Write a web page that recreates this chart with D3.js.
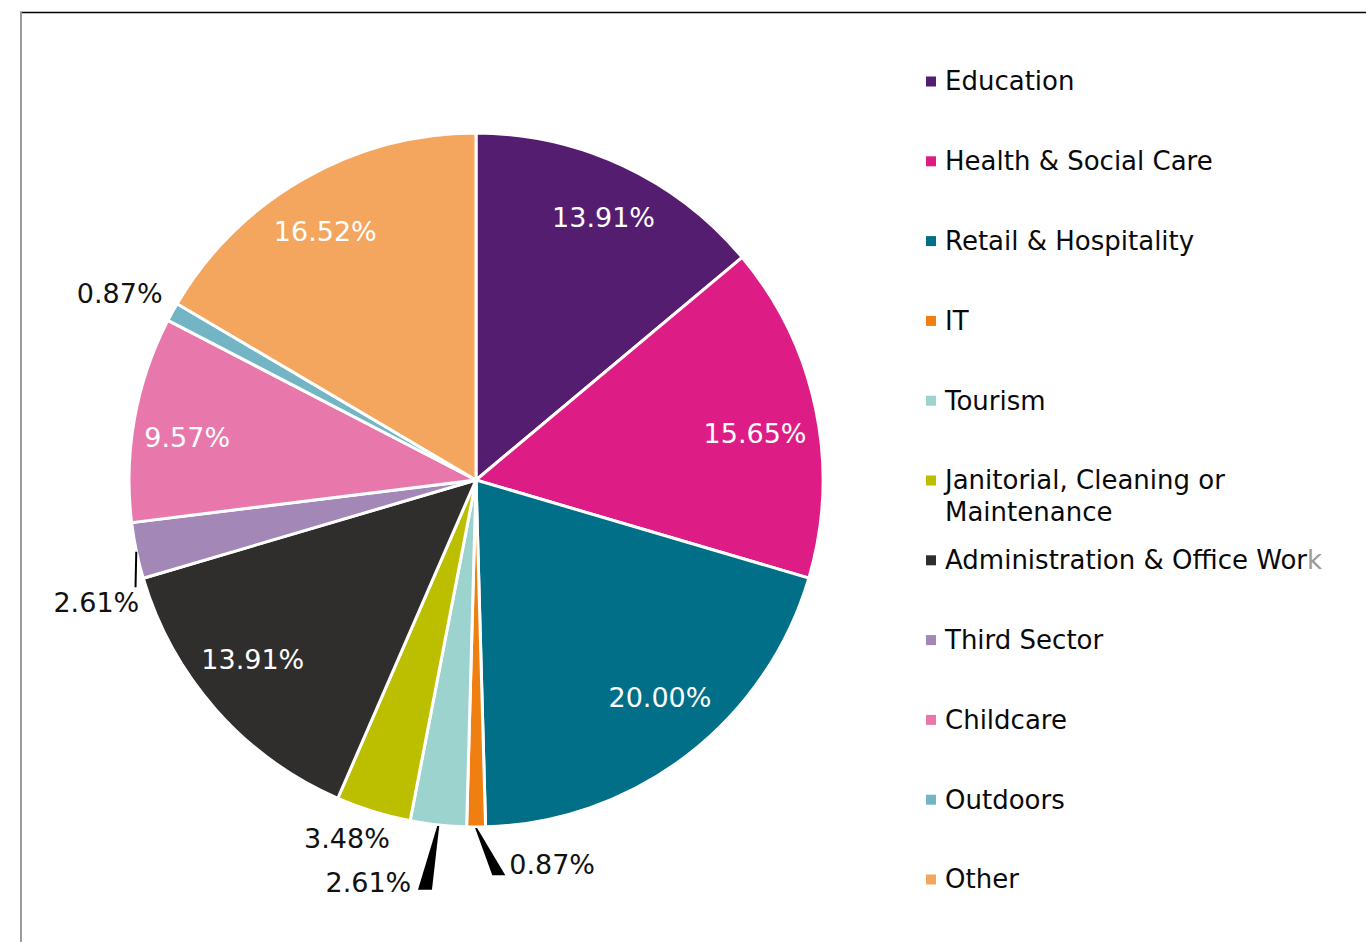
<!DOCTYPE html>
<html>
<head>
<meta charset="utf-8">
<script src="https://cdn.jsdelivr.net/npm/d3@7/dist/d3.min.js"></script>
<style>
  html, body { margin: 0; padding: 0; background: #fff; }
  svg { display: block; }
  text { font-family: "DejaVu Sans", Verdana, sans-serif; }
</style>
</head>
<body>
<svg id="chart" width="1366" height="942"></svg>
<script>
// Sectors and their share of respondents (%)
const categories = [
  "Education", "Health & Social Care", "Retail & Hospitality", "IT", "Tourism",
  "Janitorial, Cleaning or Maintenance", "Administration & Office Work",
  "Third Sector", "Childcare", "Outdoors", "Other"
];
const shares = [13.91, 15.65, 20.00, 0.87, 2.61, 3.48, 13.91, 2.61, 9.57, 0.87, 16.52];
const colors = [
  "#541d70", "#dd1c85", "#006f87", "#f07f12", "#9dd3cf",
  "#bcbf00", "#302e2d", "#a287b7", "#e878ab", "#74b5c5", "#f4a65e"
];
// Legend text, split into lines where it wraps
const legendLines = [
  ["Education"], ["Health & Social Care"], ["Retail & Hospitality"], ["IT"], ["Tourism"],
  ["Janitorial, Cleaning or", "Maintenance"], ["Administration & Office Work"],
  ["Third Sector"], ["Childcare"], ["Outdoors"], ["Other"]
];

// Label placement (polar: degrees clockwise from top, px from centre).
// Small slices get their label outside, some with a leader.
const labelLayout = {
  "Education":            { label: [25.9, 292], inside: true },
  "Health & Social Care": { label: [80.4, 283], inside: true },
  "Retail & Hospitality": { label: [139.8, 285], inside: true },
  "IT":                   { label: [168.8, 392], leader: [176.7, 396], base: 13 },
  "Tourism":              { label: [195.0, 416], leader: [187.1, 413], base: 14 },
  "Janitorial, Cleaning or Maintenance": { label: [199.8, 381] },
  "Administration & Office Work": { label: [231.3, 286], inside: true },
  "Third Sector":         { label: [252.1, 399], leader: [252.5, 357], base: 0 },
  "Childcare":            { label: [278.5, 292], inside: true },
  "Outdoors":             { label: [297.6, 402] },
  "Other":                { label: [328.8, 291], inside: true }
};

const svg = d3.select("#chart");
const W = 1366, H = 942;
const cx = 476, cy = 480, R = 347;

// frame
svg.append("line").attr("x1", 20).attr("y1", 12.5).attr("x2", W).attr("y2", 12.5)
  .attr("stroke", "#000").attr("stroke-width", 1.5);
svg.append("line").attr("x1", 21).attr("y1", 12).attr("x2", 21).attr("y2", H)
  .attr("stroke", "#9a9a9a").attr("stroke-width", 2);

const data = categories.map((c, i) => ({ name: c, value: shares[i], color: colors[i], lines: legendLines[i] }));

const pie = d3.pie().value(d => d.value).sort(null);
const arcs = pie(data);
const arc = d3.arc().innerRadius(0).outerRadius(R);

const g = svg.append("g").attr("transform", `translate(${cx},${cy})`);

g.selectAll("path.slice").data(arcs).enter().append("path")
  .attr("class", "slice")
  .attr("d", arc)
  .attr("fill", d => d.data.color)
  .attr("stroke", "#fff")
  .attr("stroke-width", 3)
  .attr("stroke-linejoin", "miter");

const polar = (deg, r) => {
  const a = deg * Math.PI / 180;
  return [r * Math.sin(a), -r * Math.cos(a)];
};
const fmt = v => v.toFixed(2) + "%";

// leader lines for the small outside labels
arcs.forEach(d => {
  const o = labelLayout[d.data.name];
  if (!o || !o.leader) return;
  const mid = (d.startAngle + d.endAngle) / 2;
  const p0 = [R * Math.sin(mid), -R * Math.cos(mid)];
  const p1 = polar(o.leader[0], o.leader[1]);
  if (o.base === 0) {
    g.append("line").attr("x1", p0[0]).attr("y1", p0[1] + 1).attr("x2", p1[0]).attr("y2", p1[1])
      .attr("stroke", "#000").attr("stroke-width", 2);
  } else {
    const h = o.base / 2;
    g.append("path")
      .attr("d", `M${p0[0] - 1},${p0[1] + 1} L${p0[0] + 1},${p0[1] + 1} L${p1[0] + h},${p1[1]} L${p1[0] - h},${p1[1]} Z`)
      .attr("fill", "#000");
  }
});

// value labels
arcs.forEach(d => {
  const o = labelLayout[d.data.name];
  const [x, y] = polar(o.label[0], o.label[1]);
  g.append("text")
    .attr("x", x).attr("y", y).attr("dy", "0.36em")
    .attr("text-anchor", "middle")
    .attr("font-size", 27)
    .attr("fill", o.inside ? "#fff" : "#111")
    .text(fmt(d.data.value));
});

// legend
const ly = d3.scalePoint().domain(categories).range([81, 879]);
const legend = svg.append("g");
data.forEach(d => {
  const y = ly(d.name);
  legend.append("rect")
    .attr("x", 926).attr("y", y - 4.5).attr("width", 10).attr("height", 10)
    .attr("fill", d.color);
  const t = legend.append("text")
    .attr("x", 945).attr("y", y)
    .attr("font-size", 26).attr("fill", "#0a0a0a");
  d.lines.forEach((line, i) => {
    const ts = t.append("tspan").attr("x", 945).attr("dy", i === 0 ? "0.36em" : 32);
    if (d.name === "Administration & Office Work") {
      // last glyph runs into the edge and fades
      ts.text(line.slice(0, -1));
      t.append("tspan").attr("fill", "#9a9a9a").text(line.slice(-1));
    } else {
      ts.text(line);
    }
  });
});
</script>
</body>
</html>
